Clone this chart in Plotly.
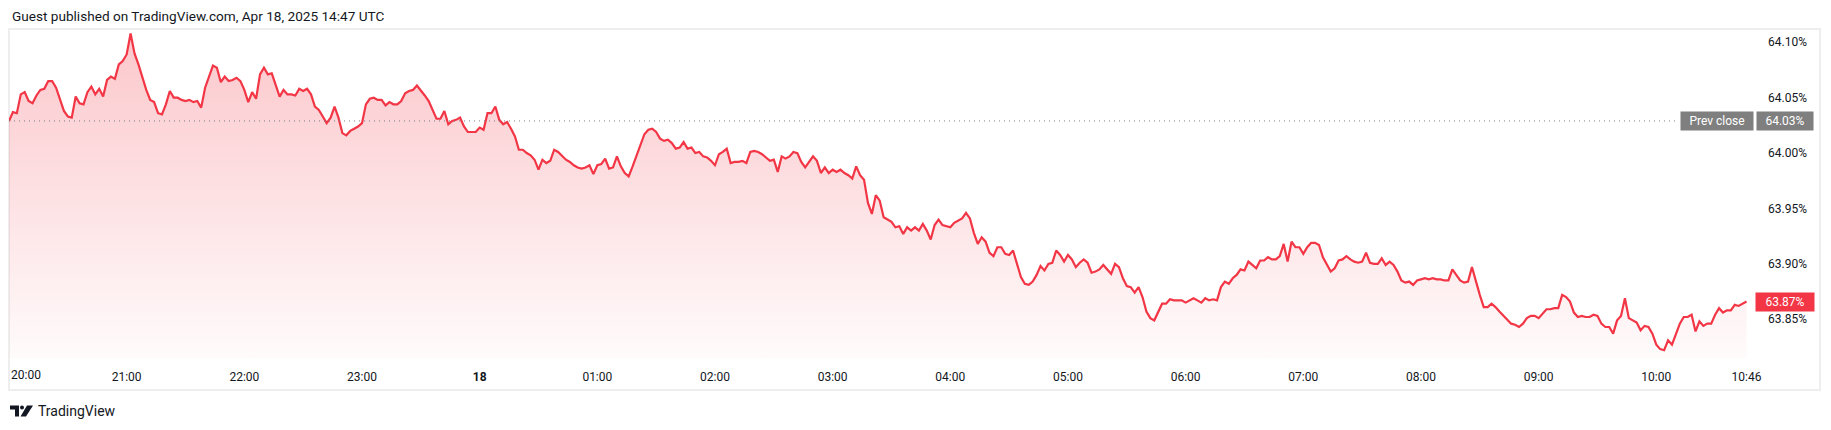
import pandas as pd
import plotly.graph_objects as go

# ---------------- data ----------------
start_time = "2025-04-17 20:00"
step_minutes = 2

# 20:00 - 23:44
yield_2000_2344 = [
    64.029, 64.037, 64.036, 64.053, 64.055, 64.047, 64.045, 64.052, 64.057, 64.058,
    64.065, 64.065, 64.059, 64.048, 64.038, 64.033, 64.032, 64.051, 64.045, 64.044,
    64.055, 64.060, 64.053, 64.058, 64.051, 64.066, 64.069, 64.067, 64.080, 64.083,
    64.089, 64.108, 64.090, 64.080, 64.068, 64.057, 64.048, 64.046, 64.036, 64.035,
    64.044, 64.056, 64.050, 64.050, 64.048, 64.047, 64.048, 64.046, 64.047, 64.041,
    64.059, 64.070, 64.079, 64.077, 64.064, 64.069, 64.065, 64.066, 64.068, 64.065,
    64.057, 64.046, 64.055, 64.049, 64.071, 64.077, 64.071, 64.072, 64.061, 64.051,
    64.057, 64.053, 64.053, 64.052, 64.058, 64.056, 64.058, 64.053, 64.042, 64.039,
    64.033, 64.027, 64.032, 64.042, 64.032, 64.018, 64.016, 64.020, 64.022, 64.024,
    64.027, 64.044, 64.049, 64.050, 64.048, 64.048, 64.043, 64.046, 64.044, 64.044,
    64.047, 64.054, 64.056, 64.057, 64.061, 64.057, 64.052, 64.047, 64.039, 64.031,
    64.031, 64.038, 64.026,
]
# 23:46 - 03:26
yield_2346_0326 = [
    64.029, 64.030, 64.032, 64.024, 64.019, 64.019, 64.019, 64.023, 64.021, 64.036,
    64.036, 64.042, 64.030, 64.026, 64.028, 64.022, 64.015, 64.003, 64.003, 64.000,
    63.998, 63.994, 63.985, 63.994, 63.991, 63.993, 64.003, 64.001, 63.997, 63.994,
    63.992, 63.989, 63.987, 63.986, 63.987, 63.989, 63.981, 63.989, 63.990, 63.995,
    63.986, 63.987, 63.997, 63.988, 63.982, 63.979, 63.988, 63.998, 64.008, 64.017,
    64.021, 64.022, 64.019, 64.013, 64.011, 64.012, 64.009, 64.004, 64.005, 64.010,
    64.004, 64.005, 64.000, 64.001, 63.997, 63.996, 63.993, 63.989, 63.999, 64.001,
    64.004, 63.991, 63.992, 63.992, 63.993, 63.991, 64.001, 64.002, 64.001, 63.999,
    63.996, 63.993, 63.994, 63.983, 63.997, 63.995, 63.997, 64.001, 64.000, 63.992,
    63.987, 63.992, 63.997, 63.993, 63.982, 63.987, 63.982, 63.985, 63.983, 63.985,
    63.982, 63.980, 63.977, 63.988, 63.980, 63.976, 63.955, 63.945, 63.962, 63.957,
    63.942,
]
# 03:28 - 07:04
yield_0328_0704 = [
    63.940, 63.938, 63.933, 63.934, 63.927, 63.933, 63.930, 63.933, 63.930, 63.936,
    63.930, 63.922, 63.935, 63.940, 63.935, 63.934, 63.933, 63.937, 63.939, 63.941,
    63.946, 63.941, 63.928, 63.918, 63.924, 63.920, 63.910, 63.907, 63.915, 63.915,
    63.909, 63.908, 63.912, 63.900, 63.888, 63.882, 63.881, 63.884, 63.890, 63.898,
    63.894, 63.900, 63.901, 63.912, 63.908, 63.902, 63.908, 63.904, 63.897, 63.901,
    63.904, 63.901, 63.892, 63.893, 63.895, 63.899, 63.895, 63.891, 63.900, 63.897,
    63.887, 63.880, 63.879, 63.874, 63.879, 63.870, 63.857, 63.851, 63.849, 63.856,
    63.864, 63.864, 63.868, 63.867, 63.867, 63.867, 63.865, 63.867, 63.869, 63.867,
    63.865, 63.869, 63.867, 63.868, 63.867, 63.879, 63.884, 63.882, 63.887, 63.890,
    63.895, 63.894, 63.902, 63.899, 63.896, 63.903, 63.903, 63.906, 63.904, 63.904,
    63.907, 63.918, 63.902, 63.920, 63.915, 63.915, 63.909, 63.915, 63.919,
]
# 07:06 - 10:46
yield_0706_1046 = [
    63.919, 63.917, 63.906, 63.900, 63.893, 63.896, 63.903, 63.904, 63.907, 63.904,
    63.902, 63.901, 63.902, 63.910, 63.901, 63.900, 63.900, 63.905, 63.899, 63.902,
    63.899, 63.893, 63.885, 63.883, 63.884, 63.881, 63.885, 63.886, 63.887, 63.886,
    63.887, 63.886, 63.886, 63.885, 63.885, 63.895, 63.890, 63.885, 63.883, 63.884,
    63.897, 63.884, 63.872, 63.861, 63.861, 63.864, 63.861, 63.857, 63.853, 63.849,
    63.846, 63.845, 63.843, 63.846, 63.851, 63.853, 63.853, 63.851, 63.855, 63.859,
    63.859, 63.860, 63.860, 63.872, 63.870, 63.866, 63.856, 63.852, 63.853, 63.852,
    63.852, 63.854, 63.853, 63.846, 63.843, 63.843, 63.837, 63.849, 63.853, 63.869,
    63.851, 63.849, 63.847, 63.840, 63.844, 63.843, 63.837, 63.827, 63.823, 63.822,
    63.831, 63.827, 63.837, 63.846, 63.852, 63.852, 63.854, 63.839, 63.848, 63.844,
    63.846, 63.846, 63.854, 63.860, 63.856, 63.858, 63.858, 63.863, 63.862, 63.864,
    63.866,
]
prev_close = 64.029
prev_close_label = "64.03%"
last_label = "63.87%"

time_tick_values = ["2025-04-17 21:00", "2025-04-17 22:00", "2025-04-17 23:00",
                    "2025-04-18 00:00", "2025-04-18 01:00", "2025-04-18 02:00",
                    "2025-04-18 03:00", "2025-04-18 04:00", "2025-04-18 05:00",
                    "2025-04-18 06:00", "2025-04-18 07:00", "2025-04-18 08:00",
                    "2025-04-18 09:00", "2025-04-18 10:00", "2025-04-18 10:46"]
time_tick_labels = ["21:00", "22:00", "23:00", "<b>18</b>", "01:00", "02:00",
                    "03:00", "04:00", "05:00", "06:00", "07:00", "08:00",
                    "09:00", "10:00", "10:46"]
first_time_label = "20:00"
price_tick_values = [63.85, 63.90, 63.95, 64.00, 64.05, 64.10]
price_tick_labels = ["63.85%", "63.90%", "63.95%", "64.00%", "64.05%", "64.10%"]

title_text = "Guest published on TradingView.com, Apr 18, 2025 14:47 UTC"

# ---------------- figure ----------------
values = yield_2000_2344 + yield_2346_0326 + yield_0328_0704 + yield_0706_1046
times = pd.date_range(start_time, periods=len(values), freq=f"{step_minutes}min")

OFF = 8                      # the page body adds an 8px margin
W, H = 1831 - 2 * OFF, 430 - 2 * OFF
L, R, T, B = 9 - OFF, 1752 - OFF, 29 - OFF, 358 - OFF   # plot area in figure pixels
PW, PH = R - L, B - T
FONT = "Roboto, Arial, sans-serif"
TXT = "#131722"
RED = "#F23645"
GREY = "#787B86"
BOX_GREY = "#7F7F7F"


def px_x(x):  # reference pixel -> paper x
    return (x - OFF - L) / PW


def px_y(y):  # reference pixel -> paper y
    return (B - (y - OFF)) / PH


fig = go.Figure()
fig.add_trace(go.Scatter(
    x=times, y=values, mode="lines",
    line=dict(color=RED, width=2.2),
    fill="tozeroy",
    fillgradient=dict(type="vertical", start=63.815, stop=64.112,
                      colorscale=[[0, "rgba(242,54,69,0.02)"],
                                  [1, "rgba(242,54,69,0.28)"]]),
    hoverinfo="skip", showlegend=False,
))

# previous close dotted line
fig.add_shape(type="line", xref="paper", yref="y",
              x0=0, x1=px_x(1678), y0=prev_close, y1=prev_close,
              line=dict(color=GREY, width=1, dash="1px,4px"))

# outer frame
fig.add_shape(type="rect", xref="paper", yref="paper",
              x0=px_x(9), x1=px_x(1820), y0=px_y(390), y1=px_y(29),
              line=dict(color="#EEEEEE", width=2), layer="below")

# price labels
label_font = dict(family=FONT, size=12, color="white")
fig.add_annotation(xref="paper", yref="y", x=px_x(1717), y=prev_close,
                   xanchor="center", yanchor="middle",
                   text="Prev close", showarrow=False, width=72, height=18,
                   bgcolor=BOX_GREY, font=label_font, borderpad=0)
fig.add_annotation(xref="paper", yref="y", x=px_x(1785), y=prev_close,
                   xanchor="center", yanchor="middle",
                   text=prev_close_label, showarrow=False, width=56, height=18,
                   bgcolor=BOX_GREY, font=label_font, borderpad=0)
fig.add_annotation(xref="paper", yref="y", x=px_x(1785), y=values[-1],
                   xanchor="center", yanchor="middle",
                   text=last_label, showarrow=False, width=58, height=18,
                   bgcolor=RED, font=label_font, borderpad=0)

# first time label (kept inside the frame)
fig.add_annotation(xref="x", yref="paper", x=times[0], y=px_y(375),
                   text=first_time_label, showarrow=False, xanchor="left",
                   yanchor="middle", font=dict(family=FONT, size=12, color=TXT))

# title
fig.add_annotation(xref="paper", yref="paper", x=px_x(10), y=px_y(16),
                   text=title_text, showarrow=False, xanchor="left", yanchor="middle",
                   font=dict(family=FONT, size=13.6, color=TXT))

# TradingView logo + wordmark
logo_y = px_y(411)
fig.add_shape(type="path", xref="paper", yref="paper", xsizemode="pixel", ysizemode="pixel",
              xanchor=px_x(10), yanchor=logo_y,
              path="M0,5.5 L9,5.5 L9,-5.5 L5,-5.5 L5,1.5 L0,1.5 Z",
              fillcolor=TXT, line=dict(width=0))
fig.add_shape(type="circle", xref="paper", yref="paper", xsizemode="pixel", ysizemode="pixel",
              xanchor=px_x(10), yanchor=logo_y, x0=10, x1=14, y0=1.5, y1=5.5,
              fillcolor=TXT, line=dict(width=0))
fig.add_shape(type="path", xref="paper", yref="paper", xsizemode="pixel", ysizemode="pixel",
              xanchor=px_x(10), yanchor=logo_y,
              path="M17,5.5 L23,5.5 L16,-5.5 L10.5,-5.5 Z",
              fillcolor=TXT, line=dict(width=0))
fig.add_annotation(xref="paper", yref="paper", x=px_x(36), y=logo_y,
                   text="TradingView", showarrow=False, xanchor="left", yanchor="middle",
                   font=dict(family=FONT, size=14, color=TXT))

fig.update_layout(
    width=W, height=H,
    margin=dict(l=L, r=W - R, t=T, b=H - B, pad=0, autoexpand=False),
    paper_bgcolor="white", plot_bgcolor="white",
    showlegend=False,
    font=dict(family=FONT, size=12, color=TXT),
    xaxis=dict(type="date", range=["2025-04-17 20:00", "2025-04-18 10:48:48"],
               tickmode="array", tickvals=time_tick_values, ticktext=time_tick_labels,
               showgrid=False, zeroline=False, showline=False, ticks="",
               ticklabelstandoff=10, automargin=False,
               tickfont=dict(family=FONT, size=12, color=TXT), fixedrange=True),
    yaxis=dict(range=[63.815, 64.112], side="right",
               tickmode="array", tickvals=price_tick_values, ticktext=price_tick_labels,
               showgrid=False, zeroline=False, showline=False, ticks="",
               ticklabelstandoff=15, automargin=False,
               tickfont=dict(family=FONT, size=12, color=TXT), fixedrange=True),
)

fig.write_html("out.html")
